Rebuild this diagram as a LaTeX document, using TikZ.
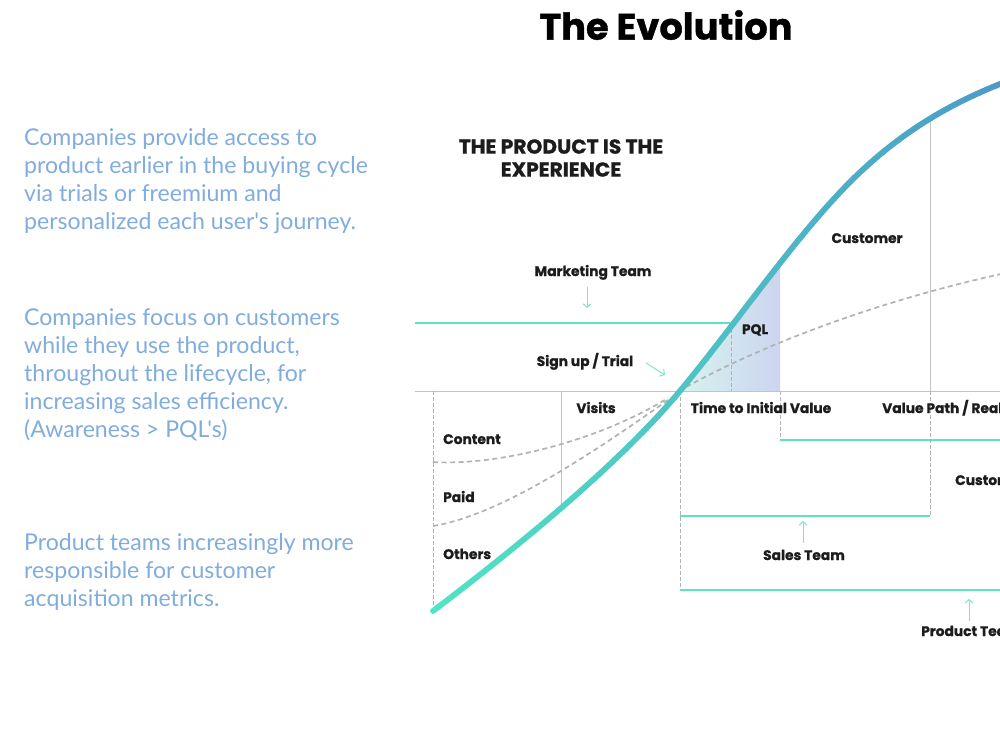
\documentclass[tikz,border=0pt]{standalone}
\usepackage{fontspec}
\setmainfont{Poppins}[BoldFeatures={FakeBold=1}]
\newfontfamily\sidefont{Lato}
\usepackage{xcolor}
\definecolor{Teal}{RGB}{95,226,196}
\definecolor{ArrowCol}{RGB}{125,228,208}
\definecolor{CurveBot}{RGB}{82,228,196}
\definecolor{CurveTop}{RGB}{74,146,200}
\definecolor{Grid}{RGB}{196,196,196}
\definecolor{DashCol}{RGB}{178,178,178}
\definecolor{Ink}{RGB}{28,28,28}
\definecolor{SideCol}{RGB}{128,172,222}
\definecolor{ShadeL}{RGB}{214,243,237}
\definecolor{ShadeR}{RGB}{204,213,240}
\usepackage{tikz}
\usetikzlibrary{arrows.meta}
\tikzstyle{Label}=[font=\fontsize{13.8}{16}\selectfont\bfseries,text=Ink,
inner sep=0pt]
\tikzstyle{Head}=[font=\fontsize{20.2}{23}\selectfont\bfseries,text=Ink,
align=center,inner sep=0pt]
\tikzstyle{Side}=[font=\sidefont\fontsize{23.1}{28}\selectfont,text=SideCol,
align=left,inner sep=0pt,anchor=north west]
\tikzstyle{TeamLine}=[draw=Teal,line width=2.4pt]
\tikzstyle{GridLine}=[draw=Grid,line width=1pt]
\tikzstyle{GridDash}=[draw=DashCol,line width=0.9pt,dash pattern=on 3.5pt off 2.5pt]
\tikzstyle{Flow}=[draw=DashCol,line width=1.7pt,dash pattern=on 5pt off 3.5pt]
\tikzstyle{Pointer}=[draw=ArrowCol,line width=1pt,
-{Straight Barb[length=3.5pt,width=8pt]}]
\tikzstyle{Curve}=[line width=5.8pt,line cap=round]
\newcommand{\EvoCurve}{(433,611) .. controls (520,545) and (620,463) .. (680,391)
    .. controls (735,325) and (795,237) .. (850,182)
    .. controls (900,132) and (950,104) .. (1000,84)
    .. controls (1050,64) and (1080,56) .. (1110,50)}

\begin{document}
\begin{tikzpicture}[x=1pt,y=-1pt]
    \useasboundingbox (0,0) rectangle (1000,750);
    \clip (0,0) rectangle (1000,750);
    % title and side notes
    \node[font=\fontsize{36.8}{40}\selectfont\bfseries,text=black,inner sep=0pt]
        (title) at (666,25) {The Evolution};
    \node[Side] (note1) at (24,128) {Companies provide access to\\
        product earlier in the buying cycle\\via trials or freemium and\\
        personalized each user's journey.};
    \node[Side] (note2) at (24,308) {Companies focus on customers\\
        while they use the product,\\throughout the lifecycle, for\\
        increasing sales efficiency.\\(Awareness > PQL's)};
    \node[Side] (note3) at (24,533) {Product teams increasingly more\\
        responsible for customer\\acquisition metrics.};
    \node[Head] (head) at (561,158) {THE PRODUCT IS THE\\EXPERIENCE};
    % PQL area
    \begin{scope}
        \clip \EvoCurve -- (1110,391) -- (433,391) -- cycle;
        \shade[left color=ShadeL,right color=ShadeR] (679,391) rectangle (780,240);
    \end{scope}
    % grid
    \coordinate (b0) at (415,391);
    \coordinate (b1) at (1000,391);
    \draw[GridLine] (b0)--(b1);
    \draw[GridLine] (561,391)--(561,508);
    \draw[GridLine] (930,117)--(930,391);
    \draw[GridDash] (433,391)--(433,611);
    \draw[GridDash] (680,391)--(680,590);
    \draw[GridDash] (731,323)--(731,391);
    \draw[GridDash] (780,391)--(780,440);
    \draw[GridDash] (930,391)--(930,516);
    % dashed flows
    \draw[Flow] (433,462) .. controls (500,466) and (600,440) .. (668,398);
    \draw[Flow] (433,526) .. controls (500,515) and (590,455) .. (668,400);
    \draw[Flow] (679,391) .. controls (760,345) and (880,300) .. (1010,272);
    % team lines
    \coordinate (mk0) at (415,323);
    \coordinate (mk1) at (730,323);
    \coordinate (cu0) at (780,440);
    \coordinate (cu1) at (1000,440);
    \coordinate (sa0) at (680,516);
    \coordinate (sa1) at (930,516);
    \coordinate (pr0) at (680,590);
    \coordinate (pr1) at (1000,590);
    \draw[TeamLine] (mk0)--(mk1);
    \draw[TeamLine] (cu0)--(cu1);
    \draw[TeamLine] (sa0)--(sa1);
    \draw[TeamLine] (pr0)--(pr1);
    % main curve
    \foreach \i in {0,...,39}{
        \pgfmathtruncatemacro\p{\i*2.5}
        \begin{scope}
            \clip ({420+\i*16},0) rectangle ++(16.6,750);
            \draw[Curve,draw=CurveTop!\p!CurveBot] \EvoCurve;
        \end{scope}
    }
    % labels
    \node[Label,anchor=base] (mkt) at (593,276) {Marketing Team};
    \node[Label,anchor=base] (sign) at (585,366) {Sign up / Trial};
    \node[Label,anchor=base] (vis) at (596,413) {Visits};
    \node[Label,anchor=base west] (con) at (443,444) {Content};
    \node[Label,anchor=base west] (paid) at (443,502) {Paid};
    \node[Label,anchor=base west] (oth) at (443,559) {Others};
    \node[Label,anchor=base] (tiv) at (761,413) {Time to Initial Value};
    \node[Label,anchor=base] (pql) at (755,334) {PQL};
    \node[Label,anchor=base west] (vpr) at (882,413) {Value Path / Realized Value};
    \node[Label,anchor=base] (cst) at (867,243) {Customer};
    \node[Label,anchor=base west] (cst2) at (955,485) {Customer Success};
    \node[Label,anchor=base] (sal) at (804,560) {Sales Team};
    \node[Label,anchor=base west] (prd) at (921,636) {Product Team};
    % pointers
    \coordinate (a0) at (587,287);
    \coordinate (a1) at (587,308);
    \coordinate (s0) at (646,363);
    \coordinate (s1) at (665,375);
    \coordinate (t0) at (803,543);
    \coordinate (t1) at (803,521);
    \coordinate (u0) at (969,621);
    \coordinate (u1) at (969,599);
    \draw[Pointer] (a0)--(a1);
    \draw[Pointer] (s0)--(s1);
    \draw[Pointer] (t0)--(t1);
    \draw[Pointer] (u0)--(u1);
\end{tikzpicture}
\end{document}
